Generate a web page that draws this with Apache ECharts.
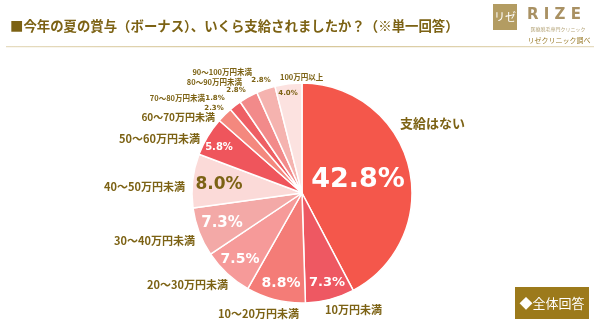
<!DOCTYPE html>
<html><head><meta charset="utf-8">
<script src="https://cdn.jsdelivr.net/npm/echarts@6/dist/echarts.min.js"></script>
<style>html,body{margin:0;padding:0;background:#fff}#c{width:600px;height:322px}</style>
</head><body><div id="c"></div>
<script>
const categories = ['支給はない','10万円未満','10～20万円未満','20～30万円未満','30～40万円未満','40～50万円未満','50～60万円未満','60～70万円未満','70～80万円未満','80～90万円未満','90～100万円未満','100万円以上'];
const values = [42.8, 7.3, 8.8, 7.5, 7.3, 8.0, 5.8, 2.3, 1.8, 2.8, 2.8, 4.0];

// styling (not data)
const sliceColors = ['#F4574B','#EE5862','#F47C77','#F69A99','#F3A9A7','#FBDAD8','#EF555C','#F4887E','#EE5F64','#F28A8A','#F5B3AF','#FCE2E0'];
const gold = '#7C6214';
// name label anchor [x, y, align, fontSize]
const nameLabelPos = [
  [400,123,'left',13],[325,310,'left',11],[218,314,'left',11],[228,285,'right',11],
  [195,241,'right',11],[185,187,'right',11],[200,139,'right',11],[215,117,'right',10],
  [205,98,'right',7.5],[242,82,'right',7.5],[252,72,'right',7.5],[280,77,'left',7.5]
];
// percent label anchor [x, y, fontSize, color]
const pctLabelPos = [
  [358,180,27,'#fff'],[327,283,13,'#fff'],[281,283,14,'#fff'],[240,259,14,'#fff'],
  [222,223,15,'#fff'],[219,185,17,gold],[219,147,10,'#fff'],[214,108,7,gold],
  [215,98,7,gold],[236,90,7,gold],[261,80,7,gold],[288,93,7,gold]
];

const jp = '"Noto Sans CJK JP", sans-serif';
const pctData = categories.map((n,i)=>({
  name:n, value:values[i],
  itemStyle:{color:sliceColors[i]},
  label:{fontSize:pctLabelPos[i][2], color:pctLabelPos[i][3]}
}));
const nameData = categories.map((n,i)=>({
  name:n, value:values[i],
  label:{fontSize:nameLabelPos[i][3]}
}));

const chart = echarts.init(document.getElementById('c'), null, {renderer:'canvas'});
chart.setOption({
  animation:false,
  backgroundColor:'#fff',
  graphic:[
    {type:'text', x:10, y:26, style:{text:'■今年の夏の賞与（ボーナス）、いくら支給されましたか？（※単一回答）', font:'bold 13.4px '+jp, fill:gold, verticalAlign:'middle'}},
    {type:'rect', shape:{x:6,y:46,width:588,height:1.2}, style:{fill:new echarts.graphic.LinearGradient(0,0,1,0,[{offset:0,color:'#e6dcc0'},{offset:0.5,color:'#d6c596'},{offset:1,color:'#e6dcc0'}])}},
    {type:'rect', shape:{x:493,y:4,width:24,height:26}, style:{fill:'#B39C62'}},
    {type:'text', x:505, y:17, style:{text:'リゼ', font:'11px '+jp, fill:'#fff', align:'center', verticalAlign:'middle'}},
    {type:'text', x:527, y:15, style:{text:'R I Z E', font:'bold 15px "DejaVu Sans", sans-serif', fill:'#A99163', verticalAlign:'middle'}},
    {type:'text', x:558, y:29, style:{text:'医療脱毛専門クリニック', font:'5px '+jp, fill:'#B8A87E', align:'center', verticalAlign:'middle'}},
    {type:'text', x:559, y:40, style:{text:'リゼクリニック調べ', font:'7px '+jp, fill:'#9C7E2E', align:'center', verticalAlign:'middle'}},
    {type:'rect', shape:{x:515,y:287,width:74,height:32}, style:{fill:'#9C7A1B'}},
    {type:'text', x:552, y:303, style:{text:'◆全体回答', font:'13px '+jp, fill:'#fff', align:'center', verticalAlign:'middle'}}
  ],
  series:[
    {
      type:'pie', center:[302,193], radius:[0,110], startAngle:90, clockwise:true,
      avoidLabelOverlap:false,
      itemStyle:{borderColor:'#fff', borderWidth:1.5},
      label:{show:true, position:'inside', formatter:p=>p.value.toFixed(1)+'%', fontFamily:'"DejaVu Sans", sans-serif', fontWeight:'bold'},
      labelLine:{show:false},
      labelLayout:p=>{const a=pctLabelPos[p.dataIndex];return {x:a[0],y:a[1],align:'center',verticalAlign:'middle'};},
      data:pctData, silent:true
    },
    {
      type:'pie', center:[302,193], radius:[0,110], startAngle:90, clockwise:true,
      avoidLabelOverlap:false,
      itemStyle:{color:'rgba(0,0,0,0)'},
      label:{show:true, position:'outside', formatter:'{b}', color:gold, fontFamily:jp, fontWeight:'bold'},
      labelLine:{show:false},
      labelLayout:p=>{const a=nameLabelPos[p.dataIndex];return {x:a[0],y:a[1],align:a[2],verticalAlign:'middle'};},
      data:nameData, silent:true
    }
  ]
});
</script></body></html>
